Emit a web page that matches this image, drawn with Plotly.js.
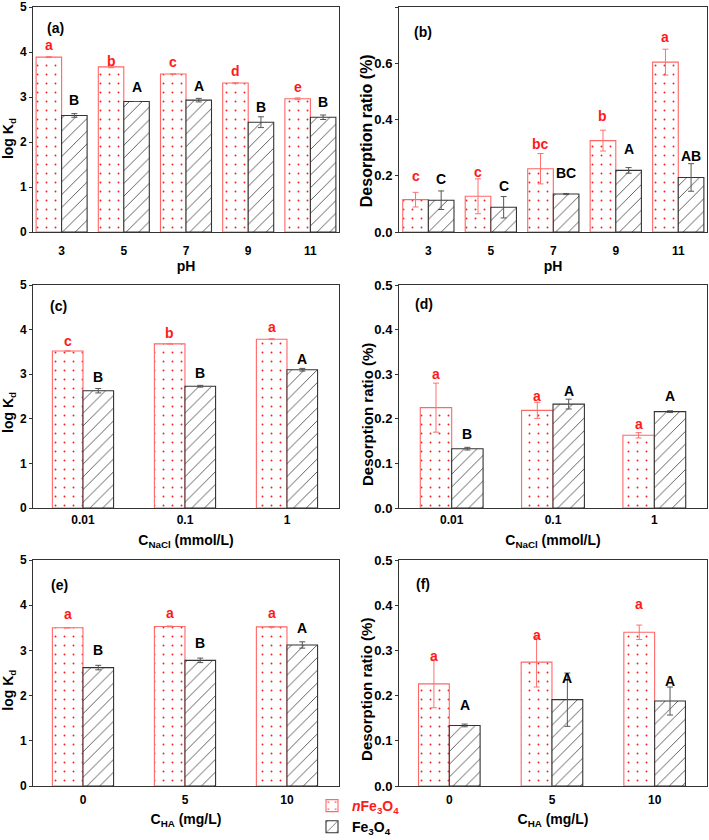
<!DOCTYPE html>
<html>
<head>
<meta charset="utf-8">
<script src="https://cdn.plot.ly/plotly-3.0.1.min.js"></script>
<style>html,body{margin:0;padding:0;background:#fff;}#chart{width:709px;height:840px;}</style>
</head>
<body>
<div id="chart"></div>
<script>
// ---------- categories ----------
const pHCats = ['3', '5', '7', '9', '11'];
const naclCats = ['0.01', '0.1', '1'];
const haCats = ['0', '5', '10'];

// ---------- (a) log Kd vs pH ----------
const a_nFe = [3.886, 3.67, 3.51, 3.31, 2.96];
const a_nFeErr = [0.01, 0.02, 0.0, 0.0, 0.02];
const a_Fe = [2.59, 2.90, 2.93, 2.44, 2.55];
const a_FeErr = [0.04, 0.0, 0.04, 0.12, 0.05];
const a_nFeLbl = ['a', 'b', 'c', 'd', 'e'];
const a_FeLbl = ['B', 'A', 'A', 'B', 'B'];
const a_nFeLblY = [4.16, 3.80, 3.77, 3.58, 3.22];
const a_FeLblY = [2.93, 3.22, 3.25, 2.78, 2.88];

// ---------- (b) desorption vs pH ----------
const b_nFe = [0.115, 0.127, 0.225, 0.325, 0.604];
const b_nFeErr = [0.026, 0.062, 0.054, 0.037, 0.046];
const b_Fe = [0.113, 0.088, 0.135, 0.219, 0.194];
const b_FeErr = [0.033, 0.038, 0.002, 0.010, 0.049];
const b_nFeLbl = ['c', 'c', 'bc', 'b', 'a'];
const b_FeLbl = ['C', 'C', 'BC', 'A', 'AB'];
const b_nFeLblY = [0.200, 0.212, 0.312, 0.412, 0.692];
const b_FeLblY = [0.188, 0.165, 0.209, 0.295, 0.270];

// ---------- (c) log Kd vs NaCl ----------
const c_nFe = [3.52, 3.68, 3.785];
const c_nFeErr = [0.0, 0.0, 0.01];
const c_Fe = [2.63, 2.73, 3.10];
const c_FeErr = [0.05, 0.02, 0.03];
const c_nFeLbl = ['c', 'b', 'a'];
const c_FeLbl = ['B', 'B', 'A'];
const c_nFeLblY = [3.75, 3.93, 4.05];
const c_FeLblY = [2.93, 3.03, 3.33];

// ---------- (d) desorption vs NaCl ----------
const d_nFe = [0.225, 0.219, 0.163];
const d_nFeErr = [0.055, 0.018, 0.006];
const d_Fe = [0.133, 0.233, 0.216];
const d_FeErr = [0.003, 0.011, 0.002];
const d_nFeLbl = ['a', 'a', 'a'];
const d_FeLbl = ['B', 'A', 'A'];
const d_nFeLblY = [0.300, 0.251, 0.189];
const d_FeLblY = [0.166, 0.263, 0.251];

// ---------- (e) log Kd vs HA ----------
const e_nFe = [3.50, 3.53, 3.52];
const e_nFeErr = [0.0, 0.01, 0.01];
const e_Fe = [2.62, 2.78, 3.12];
const e_FeErr = [0.05, 0.05, 0.07];
const e_nFeLbl = ['a', 'a', 'a'];
const e_FeLbl = ['B', 'B', 'A'];
const e_nFeLblY = [3.80, 3.83, 3.82];
const e_FeLblY = [3.02, 3.17, 3.49];

// ---------- (f) desorption vs HA ----------
const f_nFe = [0.226, 0.274, 0.340];
const f_nFeErr = [0.053, 0.055, 0.016];
const f_Fe = [0.134, 0.191, 0.188];
const f_FeErr = [0.003, 0.059, 0.031];
const f_nFeLbl = ['a', 'a', 'a'];
const f_FeLbl = ['A', 'A', 'A'];
const f_nFeLblY = [0.287, 0.335, 0.402];
const f_FeLblY = [0.179, 0.238, 0.232];

const seriesNames = ['<span style="color:#ff1a1a"><i>n</i>Fe<sub>3</sub>O<sub>4</sub></span>', 'Fe<sub>3</sub>O<sub>4</sub>'];
const panelTags = ['(a)', '(b)', '(c)', '(d)', '(e)', '(f)'];
const yTitles = ['log K<sub>d</sub>', 'Desorption ratio (%)', 'log K<sub>d</sub>', 'Desorption ratio (%)', 'log K<sub>d</sub>', 'Desorption ratio (%)'];
const xTitles = ['pH', 'pH', 'C<sub>NaCl</sub> (mmol/L)', 'C<sub>NaCl</sub> (mmol/L)', 'C<sub>HA</sub> (mg/L)', 'C<sub>HA</sub> (mg/L)'];

// ---------- styling ----------
const FONT = 'Arial, "Liberation Sans", sans-serif';
const RED = '#ff1a1a';
const RED_LINE = '#ff6666';
const DARK = '#333333';

const traces = [];
const annotations = [];

function addPanel(n, cats, nv, ne, fv, fe, w, nl, fl, nly, fly, showLeg) {
  const xa = n === 1 ? 'x' : 'x' + n;
  const ya = n === 1 ? 'y' : 'y' + n;
  traces.push({
    type: 'bar', x: cats, y: nv, xaxis: xa, yaxis: ya,
    width: w, offset: -w, name: seriesNames[0], showlegend: showLeg, legendrank: 1,
    marker: { color: '#ffffff', line: { color: RED_LINE, width: 1.1 },
      pattern: { shape: '.', fgcolor: RED, bgcolor: '#ffffff', size: 9, solidity: 0.035, fillmode: 'replace' } },
    error_y: { type: 'data', array: ne, visible: true, color: '#ff7070', thickness: 1, width: 3 }
  });
  traces.push({
    type: 'bar', x: cats, y: fv, xaxis: xa, yaxis: ya,
    width: w, offset: 0, name: seriesNames[1], showlegend: showLeg, legendrank: 2,
    marker: { color: '#ffffff', line: { color: DARK, width: 1.1 },
      pattern: { shape: '/', fgcolor: '#3a3a3a', bgcolor: '#ffffff', size: 9, solidity: 0.09, fillmode: 'replace' } },
    error_y: { type: 'data', array: fe, visible: true, color: '#555555', thickness: 1, width: 3 }
  });
  for (let i = 0; i < cats.length; i++) {
    annotations.push({ xref: xa, yref: ya, x: i - w / 2, y: nly[i], text: nl[i], showarrow: false,
      xanchor: 'center', yanchor: 'middle', font: { family: FONT, size: 14, color: RED, weight: 'bold' } });
    annotations.push({ xref: xa, yref: ya, x: i + w / 2, y: fly[i], text: fl[i], showarrow: false,
      xanchor: 'center', yanchor: 'middle', font: { family: FONT, size: 14, color: '#000', weight: 'bold' } });
  }
}

addPanel(1, pHCats, a_nFe, a_nFeErr, a_Fe, a_FeErr, 0.41, a_nFeLbl, a_FeLbl, a_nFeLblY, a_FeLblY, true);
addPanel(2, pHCats, b_nFe, b_nFeErr, b_Fe, b_FeErr, 0.41, b_nFeLbl, b_FeLbl, b_nFeLblY, b_FeLblY, false);
addPanel(3, naclCats, c_nFe, c_nFeErr, c_Fe, c_FeErr, 0.30, c_nFeLbl, c_FeLbl, c_nFeLblY, c_FeLblY, false);
addPanel(4, naclCats, d_nFe, d_nFeErr, d_Fe, d_FeErr, 0.31, d_nFeLbl, d_FeLbl, d_nFeLblY, d_FeLblY, false);
addPanel(5, haCats, e_nFe, e_nFeErr, e_Fe, e_FeErr, 0.30, e_nFeLbl, e_FeLbl, e_nFeLblY, e_FeLblY, false);
addPanel(6, haCats, f_nFe, f_nFeErr, f_Fe, f_FeErr, 0.30, f_nFeLbl, f_FeLbl, f_nFeLblY, f_FeLblY, false);

const W = 709, H = 840;

// panel tags
const tagPos = [[0.075, 0.907], [0.079, 0.888], [0.083, 0.906], [0.082, 0.913], [0.086, 0.889], [0.079, 0.892]];
panelTags.forEach((t, k) => {
  const n = k + 1;
  annotations.push({ xref: (n === 1 ? 'x' : 'x' + n) + ' domain', yref: (n === 1 ? 'y' : 'y' + n) + ' domain',
    x: tagPos[k][0], y: tagPos[k][1], text: t, showarrow: false, xanchor: 'center', yanchor: 'middle',
    font: { family: FONT, size: 14, color: '#000', weight: 'bold' } });
});

// y-axis titles (placed as rotated annotations, off-centre as in the original)
const yTitleX = [9, 366, 9, 367, 9, 367];
const yTitleY = [0.413, 0.448, 0.426, 0.417, 0.422, 0.425];
const yTitleSize = [14, 16, 14, 15, 14, 15];
yTitles.forEach((t, k) => {
  const n = k + 1;
  annotations.push({ xref: 'paper', yref: (n === 1 ? 'y' : 'y' + n) + ' domain',
    x: yTitleX[k] / W, y: yTitleY[k], text: t, textangle: -90, showarrow: false,
    xanchor: 'center', yanchor: 'middle',
    font: { family: FONT, size: yTitleSize[k], color: '#000', weight: 'bold' } });
});

const colL = [33 / W, 339 / W], colR = [399 / W, 707 / W];
const row1 = [1 - 232 / H, 1 - 7 / H], row2 = [1 - 508 / H, 1 - 285 / H], row3 = [1 - 786 / H, 1 - 560 / H];

function xAxis(dom, range, title, anchor, lblOff, titleOff) {
  return { domain: dom, range: range, type: 'category', anchor: anchor, showline: true, mirror: true,
    linecolor: DARK, linewidth: 1, ticks: '', showgrid: false, zeroline: false, fixedrange: true,
    automargin: false, ticklabelstandoff: lblOff,
    tickfont: { family: FONT, size: 12, color: '#000', weight: 'bold' },
    title: { text: title, font: { family: FONT, size: 14, color: '#000', weight: 'bold' }, standoff: titleOff } };
}
function yAxis(dom, range, dtick, fmt, anchor, fsize) {
  return { domain: dom, range: range, dtick: dtick, tick0: 0, tickformat: fmt, anchor: anchor,
    showline: true, mirror: true, linecolor: DARK, linewidth: 1, ticks: 'outside', ticklen: 3, tickcolor: DARK,
    showgrid: false, zeroline: false, fixedrange: true, automargin: false,
    tickfont: { family: FONT, size: fsize, color: '#000', weight: 'bold' } };
}

const layout = {
  width: W, height: H, margin: { l: 0, r: 0, t: 0, b: 0, autoexpand: false },
  paper_bgcolor: '#fff', plot_bgcolor: '#fff', barmode: 'overlay', showlegend: true,
  xaxis: xAxis(colL, [-0.46, 4.46], xTitles[0], 'y', 8, 1),
  yaxis: yAxis(row1, [0, 5], 1, 'd', 'x', 12),
  xaxis2: xAxis(colR, [-0.47, 4.46], xTitles[1], 'y2', 8, 1),
  yaxis2: yAxis(row1, [0, 0.8], 0.2, '.1f', 'x2', 13),
  xaxis3: xAxis(colL, [-0.49, 2.51], xTitles[2], 'y3', 1, 8),
  yaxis3: yAxis(row2, [0, 5], 1, 'd', 'x3', 12),
  xaxis4: xAxis(colR, [-0.52, 2.52], xTitles[3], 'y4', 1, 8),
  yaxis4: yAxis(row2, [0, 0.5], 0.1, '.1f', 'x4', 13),
  xaxis5: xAxis(colL, [-0.49, 2.51], xTitles[4], 'y5', 3, 7),
  yaxis5: yAxis(row3, [0, 5], 1, 'd', 'x5', 12),
  xaxis6: xAxis(colR, [-0.49, 2.51], xTitles[5], 'y6', 3, 7),
  yaxis6: yAxis(row3, [0, 0.5], 0.1, '.1f', 'x6', 13),
  legend: { x: 312 / W, y: -3 / H, xanchor: 'left', yanchor: 'bottom', bgcolor: 'rgba(0,0,0,0)',
    font: { family: FONT, size: 14, color: '#000', weight: 'bold' }, tracegroupgap: 0, itemwidth: 30 },
  annotations: annotations
};

Plotly.newPlot('chart', traces, layout, { staticPlot: true, displayModeBar: false });
</script>
</body>
</html>
